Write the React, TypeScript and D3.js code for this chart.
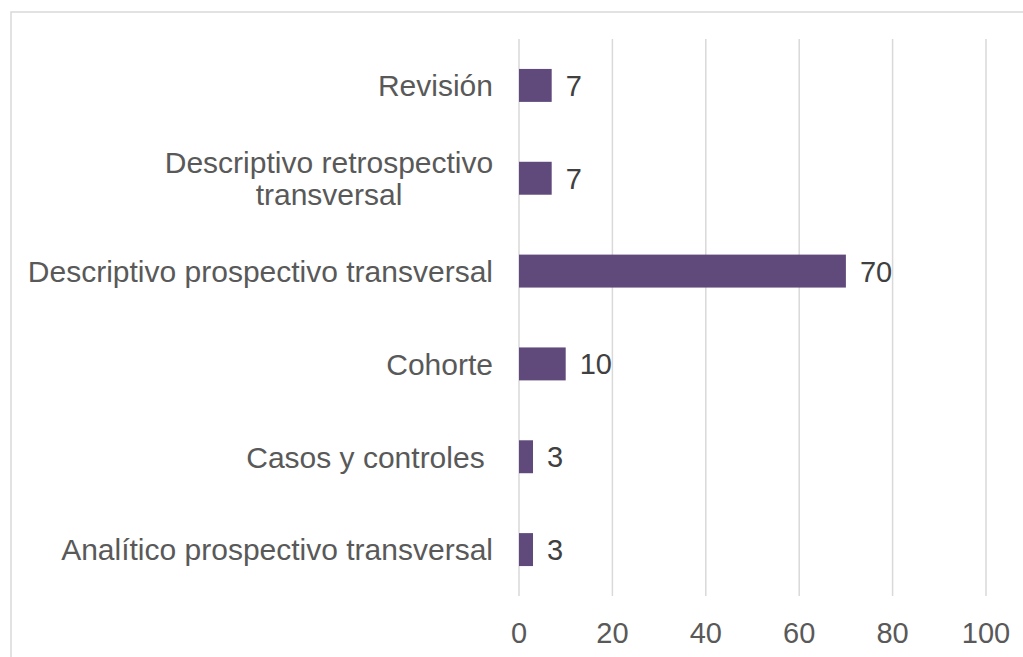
import React from "react";
import * as d3 from "d3";

const categories = [
  "Revisión",
  "Descriptivo retrospectivo transversal",
  "Descriptivo prospectivo transversal",
  "Cohorte",
  "Casos y controles ",
  "Analítico prospectivo transversal",
];
const labelLines: string[][] = [
  ["Revisión"],
  ["Descriptivo retrospectivo", "transversal"],
  ["Descriptivo prospectivo transversal"],
  ["Cohorte"],
  ["Casos y controles "],
  ["Analítico prospectivo transversal"],
];
const values = [7, 7, 70, 10, 3, 3];
const xTicks = [0, 20, 40, 60, 80, 100];

const W = 1023;
const H = 657;
const FONT = "'Liberation Sans', Arial, sans-serif";

export default function App() {
  const x = d3.scaleLinear().domain([0, 100]).range([519, 986]);
  const y = d3.scaleBand<string>().domain(categories).range([39, 596]).paddingInner(0.645).paddingOuter(0.3225);
  const fs = 30;
  return (
    <svg width={W} height={H} style={{ position: "absolute", left: 0, top: 0 }} fontFamily={FONT}>
      <rect x={0} y={0} width={W} height={H} fill="#fff" />
      <rect x={11} y={12} width={W + 20} height={H + 20} fill="none" stroke="#d9d9d9" strokeWidth={1.5} />
      {xTicks.map((t) => (
        <line key={t} x1={x(t)} x2={x(t)} y1={39} y2={596} stroke="#d9d9d9" strokeWidth={1.5} />
      ))}
      {categories.map((c, i) => {
        const yc = (y(c) as number) + y.bandwidth() / 2;
        return (
          <g key={c}>
            <rect x={x(0)} y={y(c)} width={x(values[i]) - x(0)} height={y.bandwidth()} fill="#604a7b" />
            <text x={x(values[i]) + 14} y={yc} dy="0.36em" fontSize={29} fill="#404040">
              {values[i]}
            </text>
          </g>
        );
      })}
      {categories.map((c, i) => {
        const yc = (y(c) as number) + y.bandwidth() / 2;
        const lines = labelLines[i];
        if (lines.length === 1) {
          return (
            <text key={c} x={493} y={yc} dy="0.36em" fontSize={fs} fill="#595959" textAnchor="end" style={{ whiteSpace: "pre" }}>
              {lines[0]}
            </text>
          );
        }
        const lh = 32;
        const approxW = 328;
        return (
          <text key={c} x={493 - approxW / 2} fontSize={fs} fill="#595959" textAnchor="middle">
            {lines.map((l, k) => (
              <tspan key={k} x={493 - approxW / 2} y={yc + (k - (lines.length - 1) / 2) * lh} dy="0.36em">
                {l}
              </tspan>
            ))}
          </text>
        );
      })}
      {xTicks.map((t) => (
        <text key={t} x={x(t)} y={633} dy="0.36em" fontSize={29} fill="#595959" textAnchor="middle">
          {t}
        </text>
      ))}
    </svg>
  );
}
